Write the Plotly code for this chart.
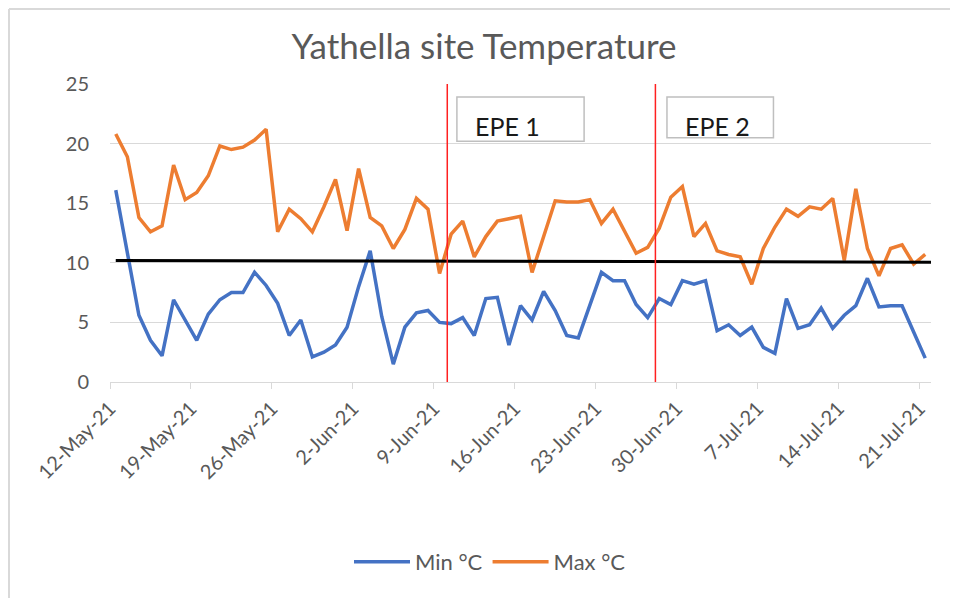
import pandas as pd
import plotly.graph_objects as go

# ---- data -------------------------------------------------------------
start_date = "2021-05-12"
n_days = 71
min_c = [16.1, 11.0, 5.6, 3.5, 2.2, 6.9, 5.2, 3.5, 5.7, 6.9,
         7.5, 7.5, 9.2, 8.1, 6.6, 3.9, 5.2, 2.1, 2.5, 3.1,
         4.6, 8.0, 11.0, 5.5, 1.5, 4.6, 5.8, 6.0, 5.0, 4.9,
         5.4, 3.9, 7.0, 7.1, 3.1, 6.4, 5.2, 7.6, 6.0, 3.9,
         3.7, 6.4, 9.2, 8.5, 8.5, 6.5, 5.4, 7.0, 6.5, 8.5,
         8.2, 8.5, 4.3, 4.8, 3.9, 4.6, 2.9, 2.4, 7.0, 4.5,
         4.8, 6.2, 4.5, 5.6, 6.4, 8.7, 6.3, 6.4, 6.4, 4.2,
         2.0]
max_c = [20.8, 18.9, 13.8, 12.6, 13.1, 18.2, 15.3, 15.9, 17.3, 19.8,
         19.5, 19.7, 20.3, 21.2, 12.6, 14.5, 13.7, 12.6, 14.7, 17.0,
         12.7, 17.9, 13.8, 13.1, 11.2, 12.8, 15.4, 14.5, 9.1, 12.4,
         13.5, 10.5, 12.2, 13.5, 13.7, 13.9, 9.2, 12.1, 15.2, 15.1,
         15.1, 15.3, 13.3, 14.5, 12.6, 10.8, 11.3, 12.9, 15.5, 16.4,
         12.2, 13.3, 11.0, 10.7, 10.5, 8.2, 11.2, 13.0, 14.5, 13.9,
         14.7, 14.5, 15.4, 10.2, 16.2, 11.2, 8.9, 11.2, 11.5, 9.9,
         10.7]
tick_dates = ["2021-05-12", "2021-05-19", "2021-05-26", "2021-06-02",
              "2021-06-09", "2021-06-16", "2021-06-23", "2021-06-30",
              "2021-07-07", "2021-07-14", "2021-07-21"]
tick_labels = ["12-May-21", "19-May-21", "26-May-21", "2-Jun-21", "9-Jun-21",
               "16-Jun-21", "23-Jun-21", "30-Jun-21", "7-Jul-21", "14-Jul-21",
               "21-Jul-21"]
y_ticks = [0, 5, 10, 15, 20, 25]
threshold_start, threshold_end = 10.2, 10.05
epe_lines = ["2021-06-10 04:00", "2021-06-28 04:00"]
epe_labels = ["EPE 1", "EPE 2"]
epe_box_x = [("2021-06-11 00:00", "2021-06-22 00:00"),
             ("2021-06-29 04:00", "2021-07-08 09:00")]
epe_box_y = [(20.2, 23.9), (20.5, 23.9)]
epe_text_x = ["2021-06-15 10:00", "2021-07-03 13:00"]
epe_text_y = 21.5

# ---- figure -----------------------------------------------------------
# page has an 8px body margin, so the figure is 8px smaller and offset
OFF = 8
W, H = 958 - OFF, 598 - OFF
L, R, T, B = 110 - OFF, 27, 84 - OFF, 216
dates = pd.date_range(start_date, periods=n_days, freq="D") + pd.Timedelta(hours=12)

def px_x(px):  # page pixel -> paper fraction
    return (px - OFF - L) / (W - L - R)

def px_y(py):
    return (H - B - (py - OFF)) / (H - T - B)

FONT = "Lato, 'Open Sans', sans-serif"
GREY = "#595959"

fig = go.Figure()
fig.add_trace(go.Scatter(x=dates, y=min_c, mode="lines", name="Min °C",
                         line=dict(color="#4472C4", width=3.5)))
fig.add_trace(go.Scatter(x=dates, y=max_c, mode="lines", name="Max °C",
                         line=dict(color="#ED7D31", width=3.5)))

shapes = []
shapes.append(dict(type="line", xref="x", yref="y",
                   x0=dates[0], x1=dates[-1] + pd.Timedelta(days=1),
                   y0=threshold_start, y1=threshold_end,
                   line=dict(color="black", width=3)))
for xv in epe_lines:
    shapes.append(dict(type="line", xref="x", yref="y", x0=xv, x1=xv,
                       y0=0, y1=25, line=dict(color="#FF2020", width=1.5)))
for (bx0, bx1), (by0, by1) in zip(epe_box_x, epe_box_y):
    shapes.append(dict(type="rect", xref="x", yref="y", x0=bx0, x1=bx1,
                       y0=by0, y1=by1, fillcolor="white",
                       line=dict(color="#BFBFBF", width=1.5)))
# sheet frame lines
shapes.append(dict(type="line", xref="paper", yref="paper",
                   x0=px_x(9), x1=px_x(958), y0=px_y(9), y1=px_y(9),
                   line=dict(color="#D9D9D9", width=2)))
shapes.append(dict(type="line", xref="paper", yref="paper",
                   x0=px_x(9), x1=px_x(9), y0=px_y(9), y1=px_y(598),
                   line=dict(color="#D9D9D9", width=2)))

annotations = []
for tx, lab in zip(epe_text_x, epe_labels):
    annotations.append(dict(x=tx, y=epe_text_y, xref="x", yref="y", text=lab,
                            showarrow=False,
                            font=dict(family=FONT, size=25, color="#1a1a1a")))

fig.update_layout(
    width=W, height=H,
    margin=dict(l=L, r=R, t=T, b=B),
    paper_bgcolor="white", plot_bgcolor="white",
    font=dict(family=FONT, color=GREY, size=20),
    title=dict(text="Yathella site Temperature", x=(484 - OFF) / W, xref="container",
               xanchor="center", y=1 - (47 - OFF) / H, yref="container", yanchor="middle",
               font=dict(family=FONT, size=35, color=GREY)),
    shapes=shapes, annotations=annotations,
    showlegend=True,
    legend=dict(orientation="h", x=px_x(490), xanchor="center",
                y=px_y(562), yanchor="middle",
                font=dict(family=FONT, size=22, color=GREY),
                itemwidth=56, bgcolor="rgba(0,0,0,0)"),
)
fig.update_xaxes(
    type="date",
    range=[pd.Timestamp(start_date), pd.Timestamp(start_date) + pd.Timedelta(days=n_days)],
    tickmode="array", tickvals=pd.to_datetime(tick_dates), ticktext=tick_labels,
    tickangle=-45, ticks="outside", ticklen=6, tickcolor="#D9D9D9",
    showline=True, linecolor="#D9D9D9", linewidth=1,
    showgrid=False, zeroline=False,
    tickfont=dict(family=FONT, size=20, color=GREY),
)
fig.update_yaxes(
    range=[0, 25], tickmode="array", tickvals=y_ticks,
    showgrid=True, gridcolor="#D9D9D9", gridwidth=1,
    zeroline=False, showline=False, ticks="",
    ticklabelstandoff=20,
    tickfont=dict(family=FONT, size=20, color=GREY),
)

fig.write_html("out.html")
